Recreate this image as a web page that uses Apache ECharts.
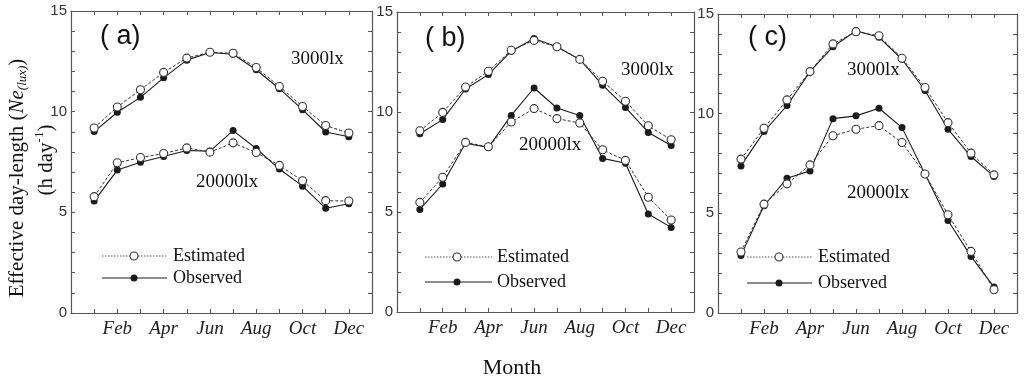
<!DOCTYPE html>
<html><head><meta charset="utf-8">
<script src="https://cdn.jsdelivr.net/npm/echarts@6/dist/echarts.min.js"></script>
<style>html,body{margin:0;padding:0;background:#fff}#c{width:1024px;height:382px}</style>
</head><body><div id="c"></div>
<script>
const months = [1,2,3,4,5,6,7,8,9,10,11,12];
const monthLabels = {2:'Feb',4:'Apr',6:'Jun',8:'Aug',10:'Oct',12:'Dec'};
const yTickLabels = {0:'0',5:'5',10:'10',15:'15'};

const a3000Est = [9.19,10.23,11.09,11.95,12.66,12.95,12.90,12.19,11.25,10.26,9.31,8.94];
const a3000Obs = [9.01,9.97,10.71,11.68,12.56,12.94,12.85,12.08,11.14,10.10,8.99,8.75];
const a20000Est = [5.78,7.46,7.72,7.92,8.20,7.99,8.45,7.97,7.33,6.57,5.58,5.56];
const a20000Obs = [5.56,7.10,7.49,7.77,8.07,8.04,9.06,8.17,7.15,6.30,5.20,5.43];

const b3000Est = [9.06,9.98,11.25,12.04,13.09,13.58,13.26,12.63,11.54,10.54,9.31,8.61];
const b3000Obs = [8.91,9.62,11.15,11.87,13.04,13.68,13.26,12.63,11.34,10.23,8.98,8.33];
const b20000Est = [5.48,6.74,8.48,8.26,9.50,10.17,9.67,9.45,8.11,7.58,5.74,4.60];
const b20000Obs = [5.13,6.40,8.44,8.23,9.83,11.20,10.20,9.83,7.68,7.44,4.90,4.23];

const c3000Est = [7.72,9.27,10.69,12.11,13.50,14.11,13.91,12.78,11.31,9.55,8.02,6.93];
const c3000Obs = [7.38,9.10,10.41,12.11,13.36,14.16,13.83,12.73,11.16,9.22,7.85,6.85];
const c20000Est = [3.06,5.46,6.48,7.43,8.89,9.22,9.40,8.55,6.97,4.93,3.09,1.17];
const c20000Obs = [2.89,5.38,6.76,7.13,9.75,9.89,10.27,9.30,6.97,4.64,2.84,1.30];

const panels = [
  {grid:{left:71,top:11,width:301,height:302}, obs:[a3000Obs,a20000Obs], est:[a3000Est,a20000Est]},
  {grid:{left:397,top:12,width:297,height:300}, obs:[b3000Obs,b20000Obs], est:[b3000Est,b20000Est]},
  {grid:{left:718,top:14,width:299,height:299}, obs:[c3000Obs,c20000Obs], est:[c3000Est,c20000Est]}
];

const frame = '#555';
const ink = '#1a1a1a';
const serif = '"Liberation Serif","DejaVu Serif",serif';
const sans = '"Liberation Sans",Arial,sans-serif';

const grid=[], xAxis=[], yAxis=[], series=[];
panels.forEach((p,i)=>{
  grid.push(Object.assign({containLabel:false}, p.grid));
  const xBase = {type:'value', gridIndex:i, min:0, max:13, interval:1,
    axisLine:{show:true, onZero:false, lineStyle:{color:frame, width:1.2}},
    axisTick:{show:true, inside:true, length:4, lineStyle:{color:frame}},
    splitLine:{show:false}};
  xAxis.push(Object.assign({}, xBase, {position:'bottom',
    axisLabel:{show:true, margin:6, fontFamily:serif, fontStyle:'italic', fontSize:19, color:'#222',
      formatter:v=>monthLabels[v]||''}}));
  xAxis.push(Object.assign({}, xBase, {position:'top', axisLabel:{show:false}}));
  const yBase = {type:'value', gridIndex:i, min:0, max:15, interval:1,
    axisLine:{show:true, onZero:false, lineStyle:{color:frame, width:1.2}},
    axisTick:{show:true, inside:true, length:4, lineStyle:{color:frame}},
    splitLine:{show:false}};
  yAxis.push(Object.assign({}, yBase, {position:'left',
    axisLabel:{show:true, margin:4, fontFamily:sans, fontSize:15, color:'#333',
      formatter:v=>yTickLabels[v]||''}}));
  yAxis.push(Object.assign({}, yBase, {position:'right', axisLabel:{show:false}}));
  const xi = i*2, yi = i*2;
  p.obs.forEach(arr=>{
    series.push({type:'line', xAxisIndex:xi, yAxisIndex:yi, silent:true, animation:false,
      data: months.map((m,k)=>[m,arr[k]]),
      symbol:'circle', symbolSize:7,
      itemStyle:{color:ink, borderColor:ink, borderWidth:0},
      lineStyle:{color:ink, width:1.1, type:'solid'}, z:2});
  });
  p.est.forEach(arr=>{
    series.push({type:'line', xAxisIndex:xi, yAxisIndex:yi, silent:true, animation:false,
      data: months.map((m,k)=>[m,arr[k]]),
      symbol:'circle', symbolSize:8,
      itemStyle:{color:'#fff', borderColor:'#333', borderWidth:1.1},
      lineStyle:{color:'#333', width:1, type:[3,2]}, z:3});
  });
});

const graphic = [];
function txt(x,y,t,font,size,opts){
  graphic.push(Object.assign({type:'text', x:x, y:y, silent:true,
    style:{text:t, fontFamily:font, fontSize:size, fill:'#111', align:'left', verticalAlign:'middle'}}, opts||{}));
}
// panel tags
txt(100,37,'( a)',sans,27);
txt(425,39,'( b)',sans,27);
txt(748,38,'( c)',sans,27);
// annotations
txt(291,59,'3000lx',serif,19);
txt(196,182,'20000lx',serif,19);
txt(621,70,'3000lx',serif,19);
txt(519,145,'20000lx',serif,19);
txt(847,70,'3000lx',serif,19);
txt(847,193,'20000lx',serif,19);
// legends
const legends = [
  {x1:102,x2:167,cx:134,y1:256,y2:278,tx:173},
  {x1:425,x2:492,cx:457,y1:257,y2:282,tx:497},
  {x1:747,x2:812,cx:779,y1:257,y2:283,tx:818}
];
legends.forEach(l=>{
  graphic.push({type:'line', silent:true, shape:{x1:l.x1,y1:l.y1,x2:l.x2,y2:l.y1}, style:{stroke:'#555', lineWidth:1, lineDash:[1.5,1.5]}});
  graphic.push({type:'circle', silent:true, shape:{cx:l.cx,cy:l.y1,r:4}, style:{fill:'#fff', stroke:'#333', lineWidth:1.1}});
  graphic.push({type:'line', silent:true, shape:{x1:l.x1,y1:l.y2,x2:l.x2,y2:l.y2}, style:{stroke:ink, lineWidth:1.1}});
  graphic.push({type:'circle', silent:true, shape:{cx:l.cx,cy:l.y2,r:3.5}, style:{fill:ink, stroke:ink, lineWidth:0}});
  txt(l.tx,l.y1,'Estimated',serif,18);
  txt(l.tx,l.y2,'Observed',serif,18);
});
// axis titles
graphic.push({type:'text', silent:true, x:512, y:368,
  style:{text:'Month', fontFamily:serif, fontSize:22, fill:'#111', align:'center', verticalAlign:'middle'}});
graphic.push({type:'text', silent:true, x:17, y:178, rotation:Math.PI/2,
  style:{text:'{n|Effective day-length (}{i|Ne}{s|(lux)}{n|)}', align:'center', verticalAlign:'middle',
    rich:{n:{fontFamily:serif,fontSize:21,fill:'#111'}, i:{fontFamily:serif,fontSize:21,fontStyle:'italic',fill:'#111'},
          s:{fontFamily:serif,fontSize:13,fontStyle:'italic',fill:'#111',padding:[12,0,0,0]}}}});
graphic.push({type:'text', silent:true, x:46, y:160, rotation:Math.PI/2,
  style:{text:'{n|(h day}{s|-1}{n|)}', align:'center', verticalAlign:'middle',
    rich:{n:{fontFamily:serif,fontSize:21,fill:'#111'}, s:{fontFamily:serif,fontSize:13,fill:'#111',padding:[0,0,12,0]}}}});

const chart = echarts.init(document.getElementById('c'), null, {renderer:'canvas'});
chart.setOption({animation:false, backgroundColor:'#fff', grid, xAxis, yAxis, series, graphic});
</script></body></html>
